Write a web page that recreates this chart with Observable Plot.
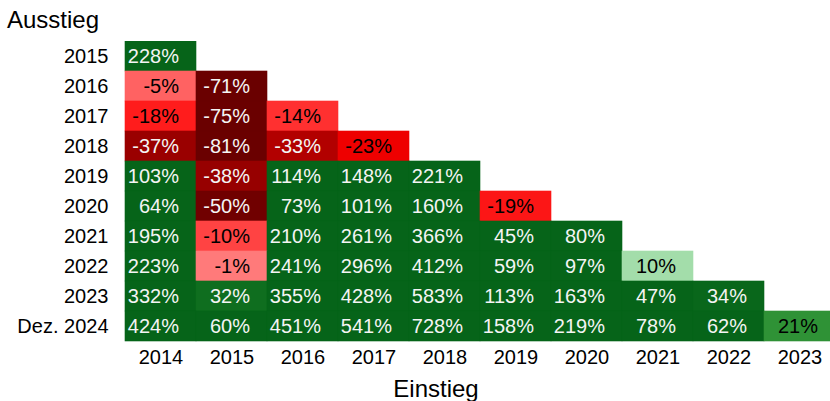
<!DOCTYPE html>
<html>
<head>
<meta charset="utf-8">
<script src="https://cdn.jsdelivr.net/npm/d3@7"></script>
<script src="https://cdn.jsdelivr.net/npm/@observablehq/plot@0.6"></script>
<style>
  html, body { margin: 0; padding: 0; overflow: hidden; background: #fff; }
  body { font-family: "Liberation Sans", Arial, sans-serif; width: 830px; }
  #title { height: 41px; box-sizing: border-box; padding: 6px 0 0 7px; font-size: 24px; line-height: 27px; color: #000; }
  #chart { width: 830px; overflow: hidden; }
  #xlabel { box-sizing: border-box; padding: 4px 0 0 42px; font-size: 24px; line-height: 27px; text-align: center; width: 830px; color: #000; }
  svg { display: block; }
</style>
</head>
<body>
<div id="title">Ausstieg</div>
<div id="chart"></div>
<div id="xlabel">Einstieg</div>
<script>
// Einstieg (entry) years — columns
const entryYears = ["2014", "2015", "2016", "2017", "2018", "2019", "2020", "2021", "2022", "2023"];
// Ausstieg (exit) years — rows
const exitYears = ["2015", "2016", "2017", "2018", "2019", "2020", "2021", "2022", "2023", "Dez. 2024"];

// Returns in % per exit row, in entry-year order
const r2015 = [228];
const r2016 = [-5, -71];
const r2017 = [-18, -75, -14];
const r2018 = [-37, -81, -33, -23];
const r2019 = [103, -38, 114, 148, 221];
const r2020 = [64, -50, 73, 101, 160, -19];
const r2021 = [195, -10, 210, 261, 366, 45, 80];
const r2022 = [223, -1, 241, 296, 412, 59, 97, 10];
const r2023 = [332, 32, 355, 428, 583, 113, 163, 47, 34];
const r2024 = [424, 60, 451, 541, 728, 158, 219, 78, 62, 21];
const rows = [r2015, r2016, r2017, r2018, r2019, r2020, r2021, r2022, r2023, r2024];

const data = [];
rows.forEach((vals, i) => {
  vals.forEach((v, j) => data.push({ausstieg: exitYears[i], einstieg: entryYears[j], value: v}));
});

const colorDomain = [-52, -37, -23, -18, -10, 0, 10, 21, 35];
const colorRange = ["#6a0000", "#9a0000", "#ee0000", "#ff1c1c", "#ff4343", "#ff8080", "#a3ddaa", "#2f9236", "#066419"];

const chart = Plot.plot({
  width: 836,
  height: 330,
  marginLeft: 124,
  marginRight: 0,
  marginTop: 0,
  marginBottom: 30,
  style: {fontFamily: "'Liberation Sans', Arial, sans-serif", fontSize: "20px", color: "#000", background: "#fff", maxWidth: "none"},
  x: {type: "band", domain: entryYears, padding: 0, label: null, tickSize: 0, tickPadding: 8, axis: "bottom"},
  y: {type: "band", domain: exitYears, padding: 0, label: null, tickSize: 0, tickPadding: 16},
  color: {type: "linear", domain: colorDomain, range: colorRange, clamp: true, interpolate: "rgb"},
  marks: [
    Plot.cell(data, {x: "einstieg", y: "ausstieg", fill: "value", stroke: "value", strokeWidth: 0.6, inset: 0}),
    Plot.text(data, {
      x: "einstieg", y: "ausstieg",
      text: d => d.value + "%",
      textAnchor: "end", dx: 18,
      fontSize: 20,
      fill: d => (d.value > -30 && d.value < 30) ? "#000" : "#f4f4f4"
    })
  ]
});
document.getElementById("chart").append(chart);
</script>
</body>
</html>
